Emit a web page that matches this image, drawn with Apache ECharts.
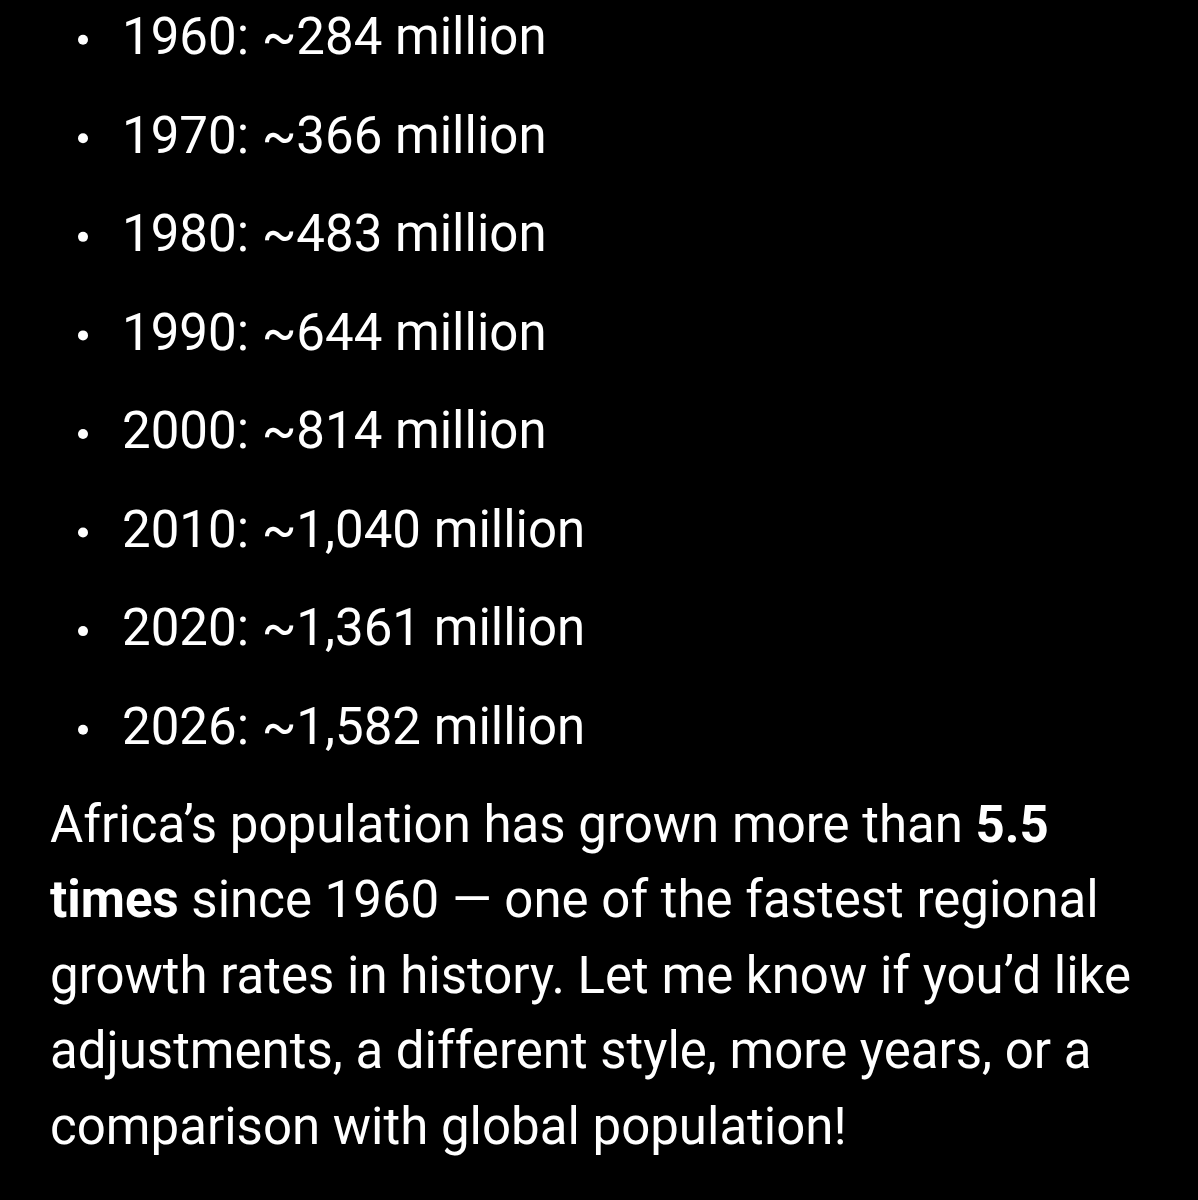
<!DOCTYPE html>
<html>
<head>
<meta charset="utf-8">
<script src="https://cdn.jsdelivr.net/npm/echarts@6/dist/echarts.min.js"></script>
<style>
html,body{margin:0;padding:0;background:#000;}
#chart{width:1198px;height:1200px;}
</style>
</head>
<body>
<div id="chart"></div>
<script>
var years = [1960, 1970, 1980, 1990, 2000, 2010, 2020, 2026];
var populationMillions = [284, 366, 483, 644, 814, 1040, 1361, 1582];
var paragraphLines = [
  [['n', 'Africa’s population has grown more than '], ['b', '5.5']],
  [['b', 'times'], ['n', ' since 1960 — one of the fastest regional']],
  [['n', 'growth rates in history. Let me know if you’d like']],
  [['n', 'adjustments, a different style, more years, or a']],
  [['n', 'comparison with global population!']]
];

var FONT = 'Roboto';
var SIZE = 51;
var chart = echarts.init(document.getElementById('chart'));

function fmt(v) { return v.toLocaleString('en-US'); }

var elements = [];
years.forEach(function (y, i) {
  var cy = 41.2 + 98.57 * i;
  elements.push({
    type: 'circle', shape: { cx: 83, cy: cy - 1.5, r: 5 },
    style: { fill: '#fff' }
  });
  elements.push({
    type: 'text', x: 122, y: cy,
    style: {
      text: y + ': ~' + fmt(populationMillions[i]) + ' million',
      fill: '#fff', font: SIZE + 'px ' + FONT, verticalAlign: 'middle', align: 'left'
    }
  });
});
paragraphLines.forEach(function (parts, i) {
  var txt = parts.map(function (p) { return '{' + p[0] + '|' + p[1] + '}'; }).join('');
  elements.push({
    type: 'text', x: 50, y: 829 + 75.5 * i,
    style: {
      text: txt, verticalAlign: 'middle', align: 'left',
      rich: {
        n: { fill: '#fff', fontSize: SIZE, fontFamily: FONT, fontWeight: 400 },
        b: { fill: '#fff', fontSize: SIZE, fontFamily: FONT, fontWeight: 700 }
      }
    }
  });
});

chart.setOption({
  backgroundColor: '#000',
  animation: false,
  graphic: { elements: elements }
});
</script>
</body>
</html>
